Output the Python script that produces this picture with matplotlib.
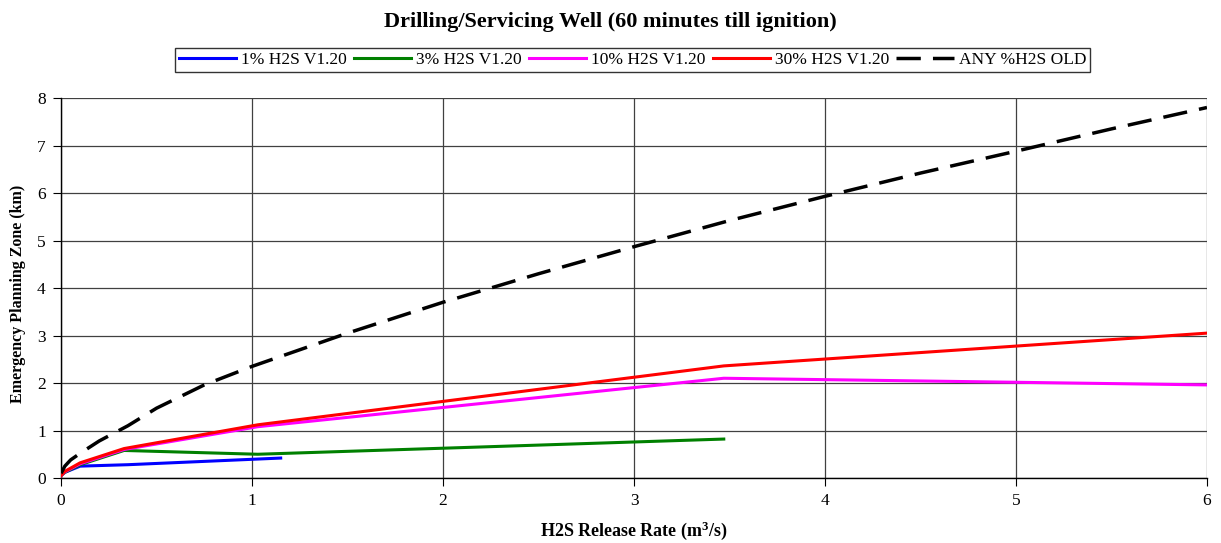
import matplotlib
matplotlib.use("Agg")
import matplotlib.pyplot as plt

plt.rcParams['font.family'] = ['Liberation Serif', 'DejaVu Serif']
plt.rcParams['mathtext.default'] = 'regular'

x_1 = [0.0, 0.02, 0.1, 0.35, 1.15]
y_1 = [0.05, 0.12, 0.25, 0.28, 0.42]
x_3 = [0.0, 0.02, 0.1, 0.33, 1.03, 3.47]
y_3 = [0.05, 0.12, 0.28, 0.58, 0.50, 0.82]
x_10 = [0.0, 0.02, 0.1, 0.33, 1.03, 3.47, 6.0]
y_10 = [0.05, 0.13, 0.30, 0.60, 1.08, 2.10, 1.96]
x_30 = [0.0, 0.02, 0.1, 0.33, 1.03, 3.47, 6.0]
y_30 = [0.05, 0.14, 0.32, 0.62, 1.12, 2.36, 3.05]
x_old = [0.0, 0.02, 0.05, 0.1, 0.2, 0.35, 0.5, 0.75, 1.0, 1.5, 2.0, 2.5, 3.0, 3.5, 4.0, 4.5, 5.0, 5.5, 6.0]
y_old = [0.1, 0.25, 0.38, 0.52, 0.78, 1.1, 1.47, 1.96, 2.35, 3.05, 3.7, 4.3, 4.87, 5.42, 5.93, 6.42, 6.88, 7.35, 7.8]

labels = ['1% H2S V1.20', '3% H2S V1.20', '10% H2S V1.20', '30% H2S V1.20', 'ANY %H2S OLD']

fig = plt.figure(figsize=(12.21, 5.43), dpi=100)
ax = fig.add_axes([0.05, 0.1197, 0.9385, 0.6998])

ax.plot(x_1, y_1, color='#0000FF', lw=2.2, label=labels[0], zorder=3)
ax.plot(x_3, y_3, color='#008000', lw=2.2, label=labels[1], zorder=3)
ax.plot(x_10, y_10, color='#FF00FF', lw=2.2, label=labels[2], zorder=3)
ax.plot(x_30, y_30, color='#FF0000', lw=2.2, label=labels[3], zorder=4)
ax.plot(x_old, y_old, color='black', lw=2.5, dashes=(7, 3.5), label=labels[4], zorder=5)

ax.set_xlim(0, 6)
ax.set_ylim(0, 8)
ax.set_xticks(range(0, 7))
ax.set_yticks(range(0, 9))
ax.grid(True, color='#404040', lw=0.9)
ax.set_axisbelow(True)
for s in ['top', 'right']:
    ax.spines[s].set_visible(False)
for s in ['left', 'bottom']:
    ax.spines[s].set_color('black')
    ax.spines[s].set_linewidth(1.0)
ax.tick_params(direction='out', length=6, labelsize=12.5, colors='black', pad=5)

ax.set_xlabel('H2S Release Rate (m$^3$/s)', fontsize=13, fontweight='bold')
ax.xaxis.set_label_coords(0.5, -0.108)
ax.set_ylabel('Emergency Planning Zone (km)', fontsize=11.5, fontweight='bold')
ax.yaxis.set_label_coords(-0.031, 0.485)
fig.suptitle('Drilling/Servicing Well (60 minutes till ignition)', fontsize=16, fontweight='bold', y=0.978)

leg = fig.legend(loc='center', bbox_to_anchor=(0.518, 0.8895), ncol=5, fontsize=12.5,
                 frameon=True, fancybox=False, edgecolor='black', handlelength=3.3,
                 handletextpad=0.3, columnspacing=0.4, borderpad=0.2, borderaxespad=0)
leg.get_frame().set_linewidth(1.0)

fig.savefig('out.png', dpi=100)
